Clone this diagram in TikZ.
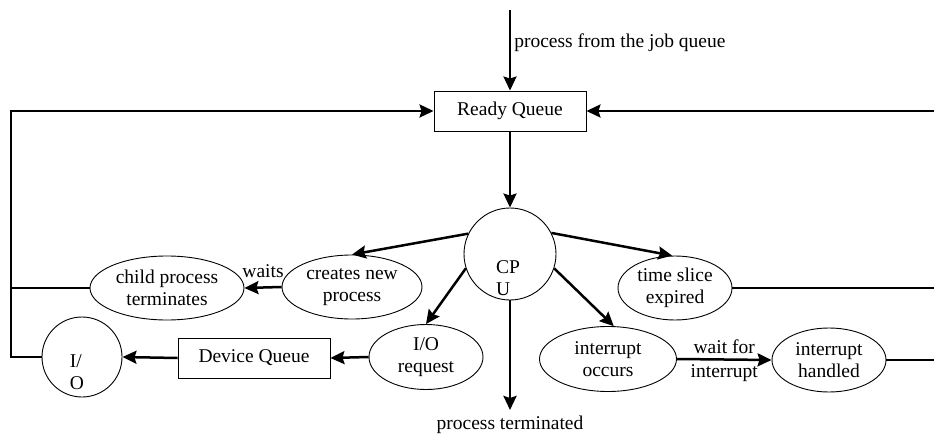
\documentclass[tikz,border=0pt]{standalone}
\usepackage{fontspec}
\setmainfont{Liberation Serif}
\usetikzlibrary{arrows.meta,shapes.geometric}
\begin{document}
\begin{tikzpicture}[x=1pt,y=-1pt,
  every node/.style={font=\fontsize{19.5}{22}\selectfont},
  box/.style={draw,line width=0.9pt,minimum width=152pt,minimum height=40pt,inner sep=0pt},
  oval/.style={draw,ellipse,line width=0.9pt,inner sep=0pt,align=center},
  ring/.style={draw,circle,line width=0.9pt,inner sep=0pt},
  wire/.style={line width=2.5pt},
  flow/.style={wire,-{Stealth[length=14pt,width=13pt,inset=2pt]}},
  tag/.style={inner sep=1pt}]
\useasboundingbox (0,0) rectangle (934,441);

% queues and processing states
\node[box] (rq) at (510,111) {Ready Queue};
\node[ring,minimum size=92pt] (cpu) at (510,254) {};
\node[align=left,tag] (cputext) at (508,278) {CP\\U};
\node[oval,minimum width=140pt,minimum height=64pt] (cn) at (352,287) {creates new\\process};
\node[oval,minimum width=154pt,minimum height=64pt] (child) at (167,288) {child process\\terminates};
\node[oval,minimum width=114pt,minimum height=64pt] (ts) at (675,288) {time slice\\expired};
\node[oval,minimum width=114pt,minimum height=65pt] (ior) at (426,357) {I/O\\request};
\node[oval,minimum width=137pt,minimum height=65pt] (ioc) at (608,359) {interrupt\\occurs};
\node[oval,minimum width=114pt,minimum height=64pt] (ih) at (829,360) {interrupt\\handled};
\node[box] (dq) at (254,358) {Device Queue};
\node[ring,minimum size=80pt] (io) at (82,357) {};
\node[align=left,tag] (iotext) at (77,372) {I/\\O};

% free ends of connectors
\coordinate (jobq) at (510,10);
\coordinate (term) at (510,410);
\coordinate (west) at (11,357);
\coordinate (east) at (934,111);

% flow of a process
\draw[flow] (jobq) -- (rq.north)
  node[tag,pos=0.41,anchor=west,xshift=2pt] {process from the job queue};
\draw[flow] (rq.south) -- (cpu.north);
\draw[flow] (cpu.south) -- (term) node[tag,below=4pt] {process terminated};
\draw[flow] (cpu.154) -- (cn.north);
\draw[flow] (cpu.27) -- (ts.95);
\draw[flow] (cpu.198) -- (ior.north);
\draw[flow] (cpu.342) -- (ioc.80);
\draw[flow] (cn.west) -- (child.east) node[tag,midway,above=8pt] {waits};
\draw[flow] (ior.west) -- (dq.east);
\draw[flow] (dq.west) -- (io.east);
\draw[flow] (ioc.east) -- (ih.west)
  node[tag,midway,above=4pt] {wait for}
  node[tag,midway,below=3pt] {interrupt};

% return paths to the ready queue
\draw[flow] (io.west) -- (west) |- (rq.west);
\draw[wire] (child.west) -- (child.west -| west);
\draw[flow] (east) -- (rq.east);
\draw[wire] (ts.east) -- (ts.east -| east);
\draw[wire] (ih.east) -- (ih.east -| east);
\end{tikzpicture}
\end{document}
